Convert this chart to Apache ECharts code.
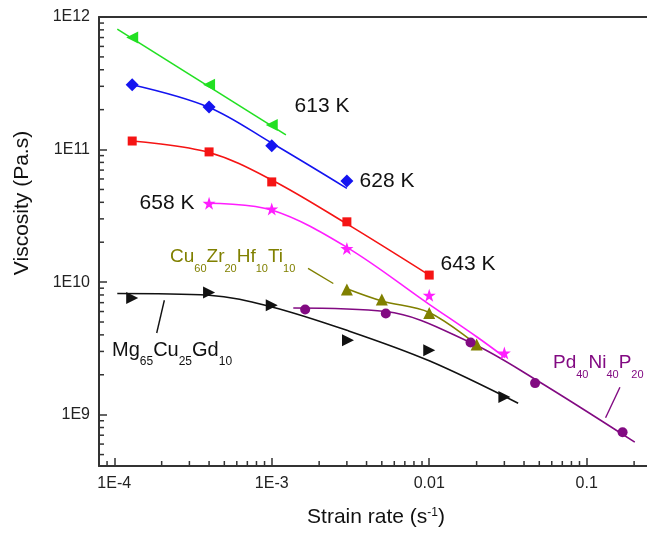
<!DOCTYPE html>
<html>
<head>
<meta charset="utf-8">
<script src="https://cdn.jsdelivr.net/npm/echarts@6/dist/echarts.min.js"></script>
<style>
    html,body{margin:0;padding:0;background:#fff;}
    #main{width:647px;height:536px;}
</style>
</head>
<body>
<div id="main"></div>
<script>
var FONT = '"Liberation Sans", Arial, sans-serif';

//坐标轴范围
var xMin = 8e-5, xMax = 0.2415;
var yMin = 4.1e8, yMax = 1e12;
//刻度标签
var xTickLabels = {'-4':'1E-4', '-3':'1E-3', '-2':'0.01', '-1':'0.1'};
var yTickLabels = {'9':'1E9', '10':'1E10', '11':'1E11', '12':'1E12'};
var xMinorTicks = [9e-5, 2e-4, 3e-4, 4e-4, 5e-4, 6e-4, 7e-4, 8e-4, 9e-4,
    2e-3, 3e-3, 4e-3, 5e-3, 6e-3, 7e-3, 8e-3, 9e-3,
    0.02, 0.03, 0.04, 0.05, 0.06, 0.07, 0.08, 0.09, 0.2];
var yMinorTicks = [5e8, 6e8, 7e8, 8e8, 9e8,
    2e9, 3e9, 4e9, 5e9, 6e9, 7e9, 8e9, 9e9,
    2e10, 3e10, 4e10, 5e10, 6e10, 7e10, 8e10, 9e10,
    2e11, 3e11, 4e11, 5e11, 6e11, 7e11, 8e11, 9e11];

//613 K
var pts613 = [[1.3e-4, 7.0e11], [4e-4, 3.08e11], [1e-3, 1.53e11]];
var fit613 = [[1.045e-4, 8.1e11], [1.23e-3, 1.29e11]];
//628 K
var pts628 = [[1.3e-4, 3.08e11], [4e-4, 2.09e11], [1e-3, 1.07e11], [3e-3, 5.8e10]];
var fit628 = [[1.3e-4, 3.08e11], [4e-4, 2.08e11], [1e-3, 1.12e11], [3e-3, 5.1e10]];
//643 K
var pts643 = [[1.3e-4, 1.16e11], [4e-4, 9.6e10], [1e-3, 5.7e10], [3e-3, 2.85e10], [0.01, 1.13e10]];
var fit643 = [[1.3e-4, 1.16e11], [4e-4, 9.5e10], [1e-3, 5.9e10], [3e-3, 2.75e10], [0.01, 1.13e10]];
//658 K
var pts658 = [[4e-4, 3.93e10], [1e-3, 3.56e10], [3e-3, 1.79e10], [0.01, 7.96e9], [0.03, 2.92e9]];
var fit658 = [[4e-4, 3.93e10], [1e-3, 3.5e10], [3e-3, 1.83e10], [0.01, 6.8e9], [0.02, 3.87e9], [0.0303, 2.7e9]];
//Cu60Zr20Hf10Ti10
var ptsCu = [[3e-3, 8.79e9], [5e-3, 7.39e9], [0.01, 5.85e9], [0.02, 3.39e9]];
var fitCu = [[3e-3, 8.9e9], [5e-3, 7.2e9], [0.01, 5.9e9], [0.0215, 3.15e9]];
//Pd40Ni40P20
var ptsPd = [[1.63e-3, 6.21e9], [5.3e-3, 5.79e9], [0.0183, 3.5e9], [0.047, 1.73e9], [0.169, 7.37e8]];
var fitPd = [[1.37e-3, 6.38e9], [5.3e-3, 6.0e9], [0.0183, 3.5e9], [0.047, 1.85e9], [0.202, 6.2e8]];
//Mg65Cu25Gd10
var ptsMg = [[1.3e-4, 7.6e9], [4e-4, 8.35e9], [1e-3, 6.69e9], [3.05e-3, 3.64e9], [0.01, 3.06e9], [0.03, 1.36e9]];
var fitMg = [[1.045e-4, 8.2e9], [4e-4, 7.96e9], [1e-3, 6.5e9], [3e-3, 4.33e9], [0.01, 2.55e9], [0.0367, 1.22e9]];
//标注引线
var leadCu = [[1.70e-3, 1.27e10], [2.46e-3, 9.76e9]];
var leadMg = [[2.08e-4, 7.3e9], [1.86e-4, 4.13e9]];
var leadPd = [[0.1626, 1.61e9], [0.1318, 9.48e8]];

var STAR = 'path://M12,0L14.9,8.6L24,8.6L16.6,14L19.4,22.6L12,17.3L4.6,22.6L7.4,14L0,8.6L9.1,8.6Z';

function marks(data, symbol, size, color, rotate){
    return {type:'scatter', data:data, symbol:symbol, symbolSize:size, symbolRotate:rotate || 0,
        itemStyle:{color:color, opacity:1}, z:4, clip:false, silent:true};
}
function curve(data, color, width){
    return {type:'line', data:data, smooth:0.35, symbol:'none', showSymbol:false,
        lineStyle:{color:color, width:width || 1.6}, z:3, silent:true};
}
function logLabel(map){
    return function(v){
        var e = Math.log10(v), r = Math.round(e);
        if(Math.abs(e - r) > 1e-6) return '';
        return map[String(r)] || '';
    };
}
function subText(parts, color, big, small){
    var s = '';
    parts.forEach(function(p, i){ s += (i % 2 === 0 ? '{n|' : '{s|') + p + '}'; });
    return {
        text:s, fill:color, align:'left', verticalAlign:'top',
        rich:{
            n:{fontSize:big, fontFamily:FONT, fill:color, lineHeight:30, verticalAlign:'top'},
            s:{fontSize:small, fontFamily:FONT, fill:color, lineHeight:12, verticalAlign:'top', padding:[16,0,0,0]}
        }
    };
}
function kText(x, y, t){
    return {type:'text', x:x, y:y, silent:true,
        style:{text:t, fontSize:21, fontFamily:FONT, fill:'#111', align:'center', verticalAlign:'middle'}};
}

var chart = echarts.init(document.getElementById('main'));
chart.setOption({
    animation:false,
    backgroundColor:'#fff',
    grid:{left:99, right:0, top:17, bottom:70},
    xAxis:[{
        type:'log', min:xMin, max:xMax,
        axisLine:{lineStyle:{color:'#333', width:2}},
        axisTick:{inside:true, length:8, lineStyle:{color:'#333', width:1.5}},
        axisLabel:{formatter:logLabel(xTickLabels), fontSize:16, fontFamily:FONT, color:'#222', margin:10,
            showMinLabel:false, showMaxLabel:false},
        splitLine:{show:false}
    }, {
        type:'log', min:xMin, max:xMax, position:'top',
        axisLine:{lineStyle:{color:'#333', width:2}},
        axisTick:{show:false}, axisLabel:{show:false}, splitLine:{show:false}
    }],
    yAxis:{
        type:'log', min:yMin, max:yMax,
        axisLine:{lineStyle:{color:'#333', width:2}},
        axisTick:{inside:true, length:8, lineStyle:{color:'#333', width:1.5}},
        axisLabel:{formatter:logLabel(yTickLabels), fontSize:16, fontFamily:FONT, color:'#222', margin:9,
            showMinLabel:false},
        splitLine:{show:false}
    },
    series:[
        //次刻度
        {type:'scatter', data:xMinorTicks.map(function(v){ return [v, yMin]; }), symbol:'rect',
            symbolSize:[1.5, 5], symbolOffset:[0, -2.5], itemStyle:{color:'#333', opacity:1}, clip:false, silent:true, z:5},
        {type:'scatter', data:yMinorTicks.map(function(v){ return [xMin, v]; }), symbol:'rect',
            symbolSize:[5, 1.5], symbolOffset:[2.5, 0], itemStyle:{color:'#333', opacity:1}, clip:false, silent:true, z:5},
        curve(fit613, '#22e022'),
        curve(fit628, '#1414f0'),
        curve(fit643, '#f51414'),
        curve(fit658, '#ff1eff'),
        curve(fitCu, '#808000'),
        curve(fitPd, '#820a82'),
        curve(fitMg, '#111'),
        curve(leadCu, '#808000', 1.4),
        curve(leadMg, '#111', 1.4),
        curve(leadPd, '#820a82', 1.4),
        marks(pts613, 'triangle', 12, '#22e022', 90),
        marks(pts628, 'diamond', 13, '#1414f0'),
        marks(pts643, 'rect', 9, '#f51414'),
        marks(pts658, STAR, 13, '#ff1eff'),
        marks(ptsCu, 'triangle', 12, '#808000'),
        marks(ptsPd, 'circle', 10, '#820a82'),
        marks(ptsMg, 'triangle', 12, '#111', -90)
    ],
    graphic:[
        kText(322, 106, '613 K'),
        kText(387, 181, '628 K'),
        kText(167, 203, '658 K'),
        kText(468, 264, '643 K'),
        {type:'text', x:170, y:247, silent:true,
            style:subText(['Cu', '60', 'Zr', '20', 'Hf', '10', 'Ti', '10'], '#808000', 19, 11)},
        {type:'text', x:112, y:340, silent:true,
            style:subText(['Mg', '65', 'Cu', '25', 'Gd', '10'], '#111', 20, 12)},
        {type:'text', x:553, y:353, silent:true,
            style:subText(['Pd', '40', 'Ni', '40', 'P', '20'], '#820a82', 19, 11)},
        {type:'text', x:22, y:203, rotation:Math.PI / 2, silent:true,
            style:{text:'Viscosity (Pa.s)', fontSize:21, fontFamily:FONT, fill:'#111', align:'center', verticalAlign:'middle'}},
        {type:'text', x:376, y:507, silent:true,
            style:{text:'{n|Strain rate (s}{p|-1}{n|)}', align:'center', verticalAlign:'top',
                rich:{
                    n:{fontSize:21, fontFamily:FONT, fill:'#111', lineHeight:26, verticalAlign:'top'},
                    p:{fontSize:12, fontFamily:FONT, fill:'#111', lineHeight:11, verticalAlign:'top'}
                }}}
    ]
});
</script>
</body>
</html>
